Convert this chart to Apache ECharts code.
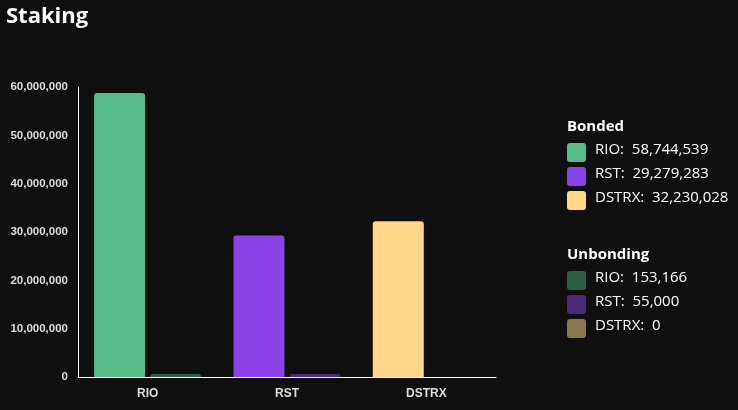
<!DOCTYPE html>
<html>
<head>
<meta charset="utf-8">
<script src="https://cdn.jsdelivr.net/npm/echarts@6/dist/echarts.min.js"></script>
<style>
html,body{margin:0;padding:0;background:#0f0f0f;}
#chart{width:738px;height:410px;}
</style>
</head>
<body>
<div id="chart"></div>
<script>
// 数据
var tokens = ['RIO', 'RST', 'DSTRX'];
var bonded = [58744539, 29279283, 32230028];
var unbonding = [153166, 55000, 0];
var bondedColors = ['#57bb8a', '#8a42e6', '#ffd68a'];
var unbondingColors = ['#2f5e46', '#4b2a7a', '#8a7650'];

function fmt(v) {
    return v.toLocaleString('en-US');
}

// 图例 (自绘)
function legendGroup(title, values, colors, top) {
    var items = [{
        type: 'text', left: 567, top: top,
        style: { text: title, fill: '#fff', font: 'bold 15px "Open Sans", sans-serif' }
    }];
    for (var i = 0; i < tokens.length; i++) {
        var y = top + 24 + i * 24;
        items.push({
            type: 'rect', left: 567, top: y,
            shape: { width: 19, height: 19, r: 3 },
            style: { fill: colors[i] }
        });
        items.push({
            type: 'text', left: 595, top: y - 1,
            style: { text: tokens[i] + ':  ' + fmt(values[i]), fill: '#fff', font: '15px "Open Sans", sans-serif' }
        });
    }
    return items;
}

var chart = echarts.init(document.getElementById('chart'));
chart.setOption({
    backgroundColor: '#0f0f0f',
    animation: false,
    title: {
        text: 'Staking', left: 1, top: 1,
        textStyle: { color: '#fff', fontSize: 22, fontWeight: 'bold', fontFamily: '"Open Sans", sans-serif' }
    },
    grid: { left: 78, right: 242, top: 87, bottom: 33 },
    xAxis: {
        type: 'category',
        data: tokens,
        axisLine: { lineStyle: { color: '#fff' } },
        axisTick: { show: false },
        axisLabel: { color: '#ddd', fontSize: 12, fontWeight: 'bold', fontFamily: '"Liberation Sans", Arial', margin: 11 }
    },
    yAxis: {
        type: 'value',
        min: 0, max: 60000000, interval: 10000000,
        axisLine: { show: true, lineStyle: { color: '#fff' } },
        splitLine: { show: false },
        axisLabel: { color: '#ddd', fontSize: 11.5, fontWeight: 'bold', fontFamily: '"Liberation Sans", Arial', margin: 10,
            formatter: function (v) { return fmt(v); } }
    },
    series: [{
        name: 'Bonded', type: 'bar', barWidth: 51, barGap: '10%',
        itemStyle: { borderRadius: [3, 3, 0, 0] },
        data: bonded.map(function (v, i) { return { value: v, itemStyle: { color: bondedColors[i] } }; })
    }, {
        name: 'Unbonding', type: 'bar', barWidth: 51, barMinHeight: 3,
        itemStyle: { borderRadius: [3, 3, 0, 0] },
        data: unbonding.map(function (v, i) { return { value: v === 0 ? '-' : v, itemStyle: { color: unbondingColors[i] } }; })
    }],
    graphic: legendGroup('Bonded', bonded, bondedColors, 119)
        .concat(legendGroup('Unbonding', unbonding, unbondingColors, 247))
});
</script>
</body>
</html>
